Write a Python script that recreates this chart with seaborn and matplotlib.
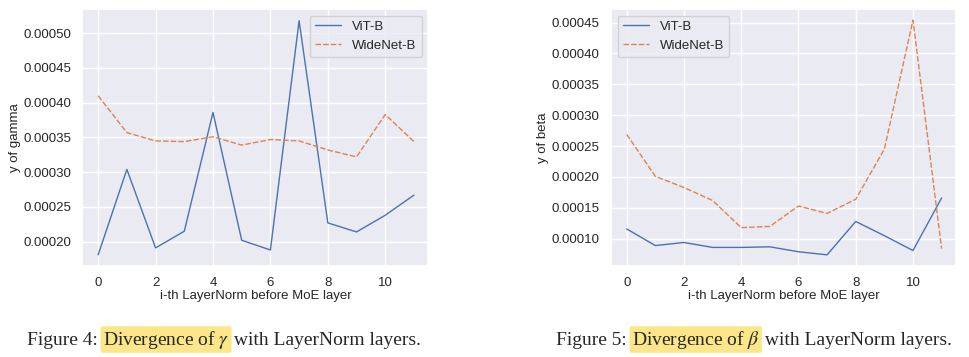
import matplotlib
matplotlib.use('Agg')
import matplotlib.pyplot as plt
import numpy as np
import pandas as pd
import seaborn as sns

layers = list(range(12))
models = ['ViT-B', 'WideNet-B']

gamma_vit = [0.000181, 0.000304, 0.000191, 0.000215, 0.000386, 0.000202,
             0.000188, 0.000518, 0.000227, 0.000214, 0.000238, 0.000267]
gamma_wide = [0.000410, 0.000357, 0.000345, 0.000344, 0.000351, 0.000339,
              0.000347, 0.000345, 0.000332, 0.000322, 0.000383, 0.000344]

beta_vit = [0.000116, 0.000089, 0.000094, 0.000086, 0.000086, 0.000087,
            0.000079, 0.000074, 0.000128, 0.000105, 0.000081, 0.000166]
beta_wide = [0.000269, 0.000201, 0.000183, 0.000162, 0.000118, 0.000120,
             0.000153, 0.000141, 0.000164, 0.000245, 0.000454, 0.000084]

captions = [('Figure 4: ', 'Divergence of $\\gamma$', ' with LayerNorm layers.'),
            ('Figure 5: ', 'Divergence of $\\beta$', ' with LayerNorm layers.')]


def make_df(vit, wide):
    return pd.DataFrame({
        'layer': layers * 2,
        'value': vit + wide,
        'model': [models[0]] * len(vit) + [models[1]] * len(wide),
    })


sns.set_theme(style='darkgrid')
plt.rcParams['font.family'] = ['Liberation Sans', 'DejaVu Sans']
plt.rcParams['mathtext.fontset'] = 'stix'

fig = plt.figure(figsize=(9.69, 3.57), dpi=100)
ax1 = fig.add_axes([0.085, 0.255, 0.357, 0.72])
ax2 = fig.add_axes([0.6305, 0.255, 0.356, 0.72])

panels = [
    (ax1, make_df(gamma_vit, gamma_wide), 'y of gamma', 'upper right'),
    (ax2, make_df(beta_vit, beta_wide), 'y of beta', 'upper left'),
]

for ax, df, ylab, loc in panels:
    sns.lineplot(data=df, x='layer', y='value', hue='model', style='model',
                 linewidth=1.0, ax=ax)
    ax.set_xlabel('i-th LayerNorm before MoE layer', fontsize=9.5, labelpad=1)
    ax.set_ylabel(ylab, fontsize=9.5, labelpad=2)
    ax.set_xticks([0, 2, 4, 6, 8, 10])
    ax.tick_params(labelsize=9.5, pad=2)
    ax.yaxis.set_major_formatter(matplotlib.ticker.FormatStrFormatter('%.5f'))
    ax.set_xlim(-0.55, 11.5)
    h, l = ax.get_legend_handles_labels()
    ax.legend(h, l, loc=loc, fontsize=9.5, frameon=True)

ax1.set_ylim(0.000165, 0.000535)
ax1.set_yticks([0.0002, 0.00025, 0.0003, 0.00035, 0.0004, 0.00045, 0.0005])
ax2.set_ylim(0.000056, 0.000472)
ax2.set_yticks([0.0001, 0.00015, 0.0002, 0.00025, 0.0003, 0.00035, 0.0004, 0.00045])

# captions with highlighted part
fig.canvas.draw()
renderer = fig.canvas.get_renderer()
for (pre, mid, post), x0 in zip(captions, [0.028, 0.574]):
    kw = dict(fontsize=14, family='Liberation Serif', va='baseline')
    t = fig.text(x0, 0.035, pre, **kw)
    bb = t.get_window_extent(renderer).transformed(fig.transFigure.inverted())
    t2 = fig.text(bb.x1, 0.035, mid,
                  bbox=dict(boxstyle='round,pad=0.12', fc='#fbe789', ec='none'), **kw)
    bb2 = t2.get_window_extent(renderer).transformed(fig.transFigure.inverted())
    fig.text(bb2.x1, 0.035, post, **kw)

fig.savefig('out.png', dpi=100)
